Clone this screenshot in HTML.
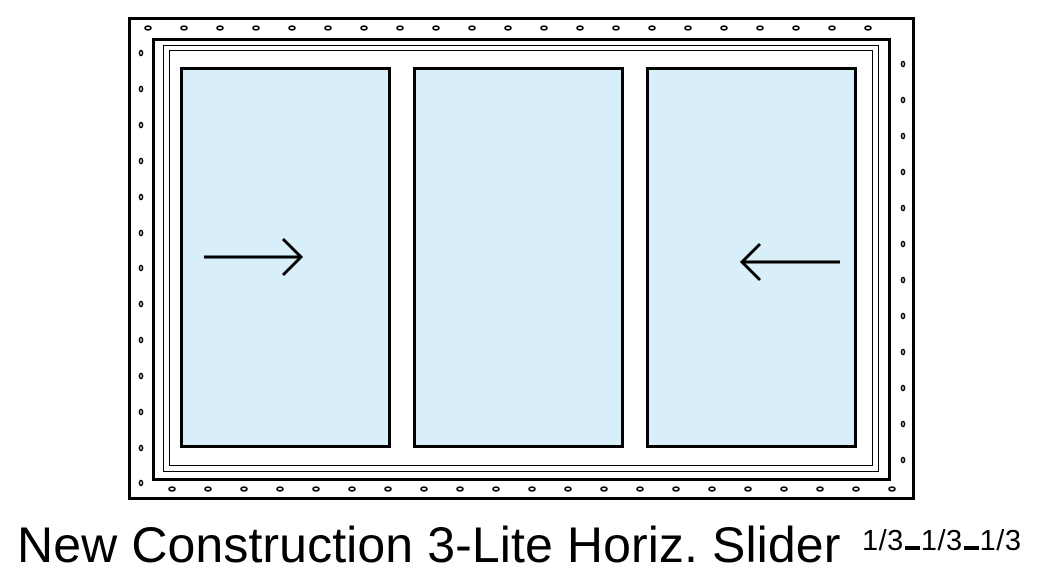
<!DOCTYPE html>
<html><head><style>
html,body{margin:0;padding:0;background:#fff;width:1042px;height:587px;overflow:hidden}
svg{position:absolute;left:0;top:0}
.t{position:absolute;left:17px;top:516px;font-family:"Liberation Sans",sans-serif;font-size:50px;color:#000;white-space:nowrap;letter-spacing:0.1px}
.s{position:absolute;left:862px;top:525px;font-family:"Liberation Sans",sans-serif;font-size:29px;color:#000;white-space:nowrap;letter-spacing:0.5px}
.s b{display:inline-block;width:15px;height:4px;background:#000;vertical-align:baseline;margin:0 1px}
</style></head><body>
<svg width="1042" height="587" xmlns="http://www.w3.org/2000/svg">
<rect x="129.5" y="18.5" width="784" height="480" fill="#fff" stroke="#000" stroke-width="3"/>
<rect x="153.5" y="39.5" width="736" height="440" fill="#fff" stroke="#000" stroke-width="3"/>
<rect x="163.5" y="45.5" width="715" height="426" fill="none" stroke="#000" stroke-width="1"/>
<rect x="169.5" y="50.5" width="703" height="415" fill="none" stroke="#000" stroke-width="1"/>
<g fill="#d8eef8" stroke="#000" stroke-width="3">
<rect x="181.5" y="68.5" width="208" height="378"/>
<rect x="414.5" y="68.5" width="208" height="378"/>
<rect x="647.5" y="68.5" width="208" height="378"/>
</g>
<g fill="none" stroke="#000" stroke-width="3">
<path d="M204 257H300M283 239L301 257L283 275"/>
<path d="M840 262H744M760 244L742 262L760 280"/>
</g>
<g fill="none" stroke="#000" stroke-width="1.6">
<ellipse cx="148" cy="28" rx="3" ry="1.8"/><ellipse cx="184" cy="28" rx="3" ry="1.8"/><ellipse cx="220" cy="28" rx="3" ry="1.8"/><ellipse cx="256" cy="28" rx="3" ry="1.8"/><ellipse cx="292" cy="28" rx="3" ry="1.8"/><ellipse cx="328" cy="28" rx="3" ry="1.8"/><ellipse cx="364" cy="28" rx="3" ry="1.8"/><ellipse cx="400" cy="28" rx="3" ry="1.8"/><ellipse cx="436" cy="28" rx="3" ry="1.8"/><ellipse cx="472" cy="28" rx="3" ry="1.8"/><ellipse cx="508" cy="28" rx="3" ry="1.8"/><ellipse cx="544" cy="28" rx="3" ry="1.8"/><ellipse cx="580" cy="28" rx="3" ry="1.8"/><ellipse cx="616" cy="28" rx="3" ry="1.8"/><ellipse cx="652" cy="28" rx="3" ry="1.8"/><ellipse cx="688" cy="28" rx="3" ry="1.8"/><ellipse cx="724" cy="28" rx="3" ry="1.8"/><ellipse cx="760" cy="28" rx="3" ry="1.8"/><ellipse cx="796" cy="28" rx="3" ry="1.8"/><ellipse cx="832" cy="28" rx="3" ry="1.8"/><ellipse cx="868" cy="28" rx="3" ry="1.8"/>
<ellipse cx="172" cy="489" rx="3" ry="1.8"/><ellipse cx="208" cy="489" rx="3" ry="1.8"/><ellipse cx="244" cy="489" rx="3" ry="1.8"/><ellipse cx="280" cy="489" rx="3" ry="1.8"/><ellipse cx="316" cy="489" rx="3" ry="1.8"/><ellipse cx="352" cy="489" rx="3" ry="1.8"/><ellipse cx="388" cy="489" rx="3" ry="1.8"/><ellipse cx="424" cy="489" rx="3" ry="1.8"/><ellipse cx="460" cy="489" rx="3" ry="1.8"/><ellipse cx="496" cy="489" rx="3" ry="1.8"/><ellipse cx="532" cy="489" rx="3" ry="1.8"/><ellipse cx="568" cy="489" rx="3" ry="1.8"/><ellipse cx="604" cy="489" rx="3" ry="1.8"/><ellipse cx="640" cy="489" rx="3" ry="1.8"/><ellipse cx="676" cy="489" rx="3" ry="1.8"/><ellipse cx="712" cy="489" rx="3" ry="1.8"/><ellipse cx="748" cy="489" rx="3" ry="1.8"/><ellipse cx="784" cy="489" rx="3" ry="1.8"/><ellipse cx="820" cy="489" rx="3" ry="1.8"/><ellipse cx="856" cy="489" rx="3" ry="1.8"/><ellipse cx="892" cy="489" rx="3" ry="1.8"/>
<ellipse cx="141" cy="53" rx="1.5" ry="2.5"/><ellipse cx="141" cy="89" rx="1.5" ry="2.5"/><ellipse cx="141" cy="125" rx="1.5" ry="2.5"/><ellipse cx="141" cy="161" rx="1.5" ry="2.5"/><ellipse cx="141" cy="197" rx="1.5" ry="2.5"/><ellipse cx="141" cy="233" rx="1.5" ry="2.5"/><ellipse cx="141" cy="268" rx="1.5" ry="2.5"/><ellipse cx="141" cy="304" rx="1.5" ry="2.5"/><ellipse cx="141" cy="340" rx="1.5" ry="2.5"/><ellipse cx="141" cy="376" rx="1.5" ry="2.5"/><ellipse cx="141" cy="412" rx="1.5" ry="2.5"/><ellipse cx="141" cy="448" rx="1.5" ry="2.5"/><ellipse cx="141" cy="483" rx="1.5" ry="2.5"/>
<ellipse cx="903" cy="64" rx="1.5" ry="2.5"/><ellipse cx="903" cy="100" rx="1.5" ry="2.5"/><ellipse cx="903" cy="136" rx="1.5" ry="2.5"/><ellipse cx="903" cy="172" rx="1.5" ry="2.5"/><ellipse cx="903" cy="208" rx="1.5" ry="2.5"/><ellipse cx="903" cy="244" rx="1.5" ry="2.5"/><ellipse cx="903" cy="280" rx="1.5" ry="2.5"/><ellipse cx="903" cy="316" rx="1.5" ry="2.5"/><ellipse cx="903" cy="352" rx="1.5" ry="2.5"/><ellipse cx="903" cy="388" rx="1.5" ry="2.5"/><ellipse cx="903" cy="424" rx="1.5" ry="2.5"/><ellipse cx="903" cy="460" rx="1.5" ry="2.5"/>
</g>
</svg>
<div class="t">New Construction 3-Lite Horiz. Slider</div>
<div class="s">1/3<b></b>1/3<b></b>1/3</div>
</body></html>
